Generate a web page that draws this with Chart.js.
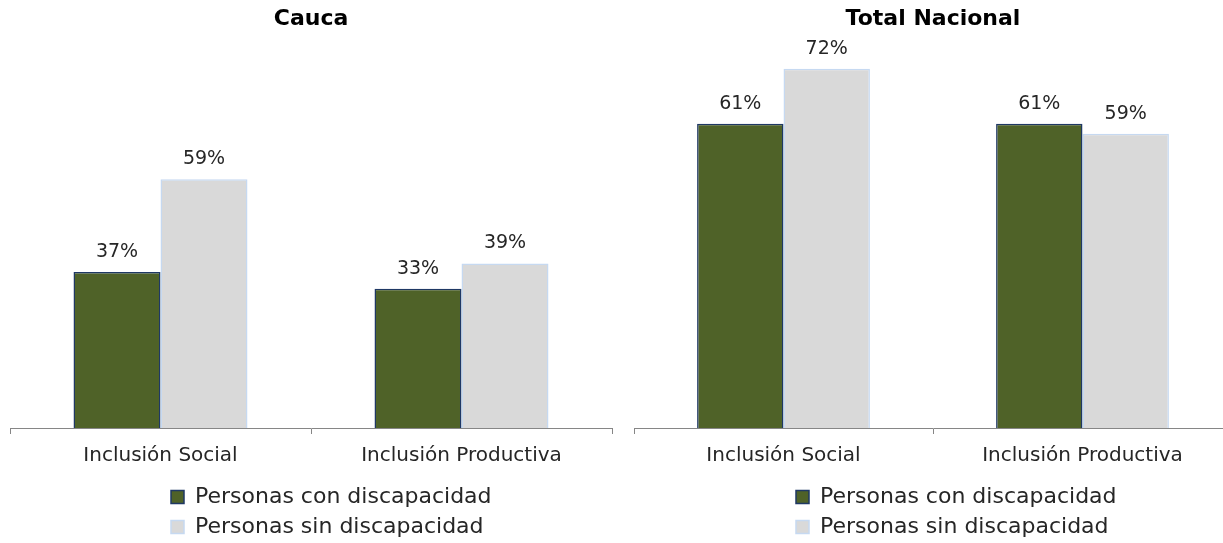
<!DOCTYPE html>
<html>
<head>
<meta charset="utf-8">
<script src="https://cdn.jsdelivr.net/npm/chart.js@4/dist/chart.umd.min.js"></script>
<style>
  html, body { margin: 0; padding: 0; background: #ffffff; overflow: hidden; }
  #wrap { position: relative; width: 1223px; height: 543px; overflow: hidden; background: #ffffff; }
  #c1 { position: absolute; left: 0; top: 0; }
  #c2 { position: absolute; left: 622px; top: 0; }
</style>
</head>
<body>
<div id="wrap">
  <canvas id="c1" width="622" height="551"></canvas>
  <canvas id="c2" width="622" height="551"></canvas>
</div>
<script>
// ---- data ----
const categories = ['Inclusión Social', 'Inclusión Productiva'];
const seriesNames = ['Personas con discapacidad', 'Personas sin discapacidad'];
const titles = ['Cauca', 'Total Nacional'];
const caucaCon = [37, 33];
const caucaSin = [59, 39];
const nacionalCon = [61, 61];
const nacionalSin = [72, 59];

// ---- styling ----
const FONT = '"DejaVu Sans", sans-serif';
Chart.defaults.font.family = FONT;
Chart.defaults.color = '#262626';

const valueLabels = {
  id: 'valueLabels',
  afterDatasetsDraw(chart) {
    const ctx = chart.ctx;
    ctx.save();
    ctx.font = '19px ' + FONT;
    ctx.fillStyle = '#262626';
    ctx.textAlign = 'center';
    ctx.textBaseline = 'middle';
    chart.data.datasets.forEach((ds, i) => {
      chart.getDatasetMeta(i).data.forEach((bar, j) => {
        ctx.fillText(ds.data[j] + '%', bar.x, bar.y - 20);
      });
    });
    ctx.restore();
  }
};

const legendShift = {
  id: 'legendShift',
  afterLayout(chart, args, opts) {
    const lg = chart.legend;
    if (!lg) return;
    const pad = lg.options.labels.padding;
    lg.left = opts.boxX - pad;
  }
};

function makeChart(id, title, con, sin, yMax, padL, padR, boxX) {
  return new Chart(document.getElementById(id), {
    type: 'bar',
    data: {
      labels: categories,
      datasets: [
        {
          label: seriesNames[0],
          data: con,
          backgroundColor: '#4F6228',
          borderColor: '#1F3864',
          borderWidth: 1.5,
          categoryPercentage: 0.578,
          barPercentage: 1.0
        },
        {
          label: seriesNames[1],
          data: sin,
          backgroundColor: '#D9D9D9',
          borderColor: '#C6D9F1',
          borderWidth: 1.5,
          categoryPercentage: 0.578,
          barPercentage: 1.0
        }
      ]
    },
    options: {
      responsive: false,
      animation: false,
      devicePixelRatio: 1,
      layout: { padding: { left: padL, right: padR, top: 0, bottom: 3 } },
      scales: {
        x: {
          grid: {
            display: true,
            offset: true,
            drawOnChartArea: false,
            drawTicks: true,
            tickLength: 6,
            color: '#868686',
            lineWidth: 1
          },
          border: { display: true, color: '#868686', width: 1 },
          ticks: {
            padding: 10,
            color: '#262626',
            font: { size: 20, family: FONT }
          }
        },
        y: {
          display: false,
          min: 0,
          max: yMax
        }
      },
      plugins: {
        title: {
          display: true,
          text: title,
          color: '#000000',
          font: { size: 22, weight: 'bold', family: FONT },
          padding: { top: 6, bottom: 8 }
        },
        legend: {
          display: true,
          position: 'bottom',
          align: 'start',
          labels: {
            boxWidth: 13,
            boxHeight: 13,
            padding: 8,
            color: '#262626',
            font: { size: 22, family: FONT }
          }
        },
        legendShift: { boxX: boxX },
        tooltip: { enabled: false }
      }
    },
    plugins: [valueLabels, legendShift]
  });
}

makeChart('c1', titles[0], caucaCon, caucaSin, 91.9, 10, 10, 171);
makeChart('c2', titles[1], nacionalCon, nacionalSin, 77.7, 12, 12, 174);
</script>
</body>
</html>
